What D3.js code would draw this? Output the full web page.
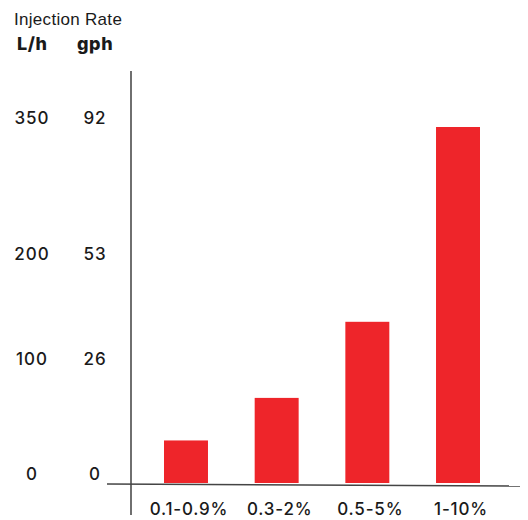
<!DOCTYPE html>
<html>
<head>
<meta charset="utf-8">
<script src="https://cdn.jsdelivr.net/npm/d3@7"></script>
<style>
  html, body { margin: 0; padding: 0; background: #fff; }
  svg { display: block; }
</style>
</head>
<body>
<svg id="chart" width="528" height="520"></svg>
<script>
// ---- data ----
const categories = ["0.1-0.9%", "0.3-2%", "0.5-5%", "1-10%"];
const rateLh = [37, 74, 144, 350];          // injection rate, L/h (bar heights)
const tickLh = [0, 100, 200, 350];          // left tick labels, L/h
const tickGph = ["0", "26", "53", "92"];    // matching gph labels
const titleText = "Injection Rate";
const unitLh = "L/h";
const unitGph = "gph";

// ---- layout ----
const svg = d3.select("#chart");
const numFont = "Inter, 'Noto Sans', sans-serif";
const textColor = "#1a1a1a";
const barColor = "#ee252a";

// non-uniform axis as drawn in the source (piecewise linear)
const y = d3.scaleLinear()
  .domain(tickLh)
  .range([483, 368, 263, 127]);

const x = d3.scaleBand()
  .domain(categories)
  .range([131, 513])
  .paddingInner(0.515)
  .paddingOuter(0.364);

// title & units
svg.append("text")
  .attr("x", 14).attr("y", 25)
  .attr("font-family", "'Liberation Sans', Arial, sans-serif")
  .attr("font-size", 17)
  .attr("letter-spacing", 0.3)
  .attr("fill", textColor)
  .text(titleText);

svg.append("text")
  .attr("x", 17).attr("y", 50)
  .attr("font-family", numFont)
  .attr("font-weight", 800)
  .attr("font-size", 18)
  .attr("letter-spacing", 0.6)
  .attr("fill", textColor)
  .text(unitLh);

svg.append("text")
  .attr("x", 77).attr("y", 50)
  .attr("font-family", numFont)
  .attr("font-weight", 800)
  .attr("font-size", 18)
  .attr("letter-spacing", 0.6)
  .attr("fill", textColor)
  .text(unitGph);

// bars
svg.append("g")
  .selectAll("rect")
  .data(categories)
  .join("rect")
  .attr("x", d => x(d))
  .attr("width", x.bandwidth())
  .attr("y", (d, i) => y(rateLh[i]))
  .attr("height", (d, i) => y(0) - y(rateLh[i]))
  .attr("fill", barColor);

// y tick labels (two columns)
const yl = svg.append("g")
  .attr("font-family", numFont)
  .attr("font-weight", 500)
  .attr("font-size", 17)
  .attr("letter-spacing", 1)
  .attr("fill", textColor)
  .attr("text-anchor", "middle");

yl.selectAll("text.lh")
  .data(tickLh)
  .join("text")
  .attr("class", "lh")
  .attr("x", 32)
  .attr("y", d => y(d) - 9)
  .attr("dy", "0.36em")
  .text(d => d);

yl.selectAll("text.gph")
  .data(tickLh)
  .join("text")
  .attr("class", "gph")
  .attr("x", 95)
  .attr("y", d => y(d) - 9)
  .attr("dy", "0.36em")
  .text((d, i) => tickGph[i]);

// axes lines
svg.append("line")
  .attr("x1", 131).attr("x2", 131)
  .attr("y1", 71).attr("y2", 515)
  .attr("stroke", "#333").attr("stroke-width", 1.4);

svg.append("line")
  .attr("x1", 107).attr("x2", 520)
  .attr("y1", y(0) + 1).attr("y2", y(0) + 3)
  .attr("stroke", "#444").attr("stroke-width", 1.4);

// x category labels
svg.append("g")
  .attr("font-family", numFont)
  .attr("font-weight", 500)
  .attr("font-size", 17)
  .attr("letter-spacing", 0.8)
  .attr("fill", textColor)
  .attr("text-anchor", "middle")
  .selectAll("text")
  .data(categories)
  .join("text")
  .attr("x", d => x(d) + x.bandwidth() / 2 + 3)
  .attr("y", 515)
  .text(d => d);
</script>
</body>
</html>
